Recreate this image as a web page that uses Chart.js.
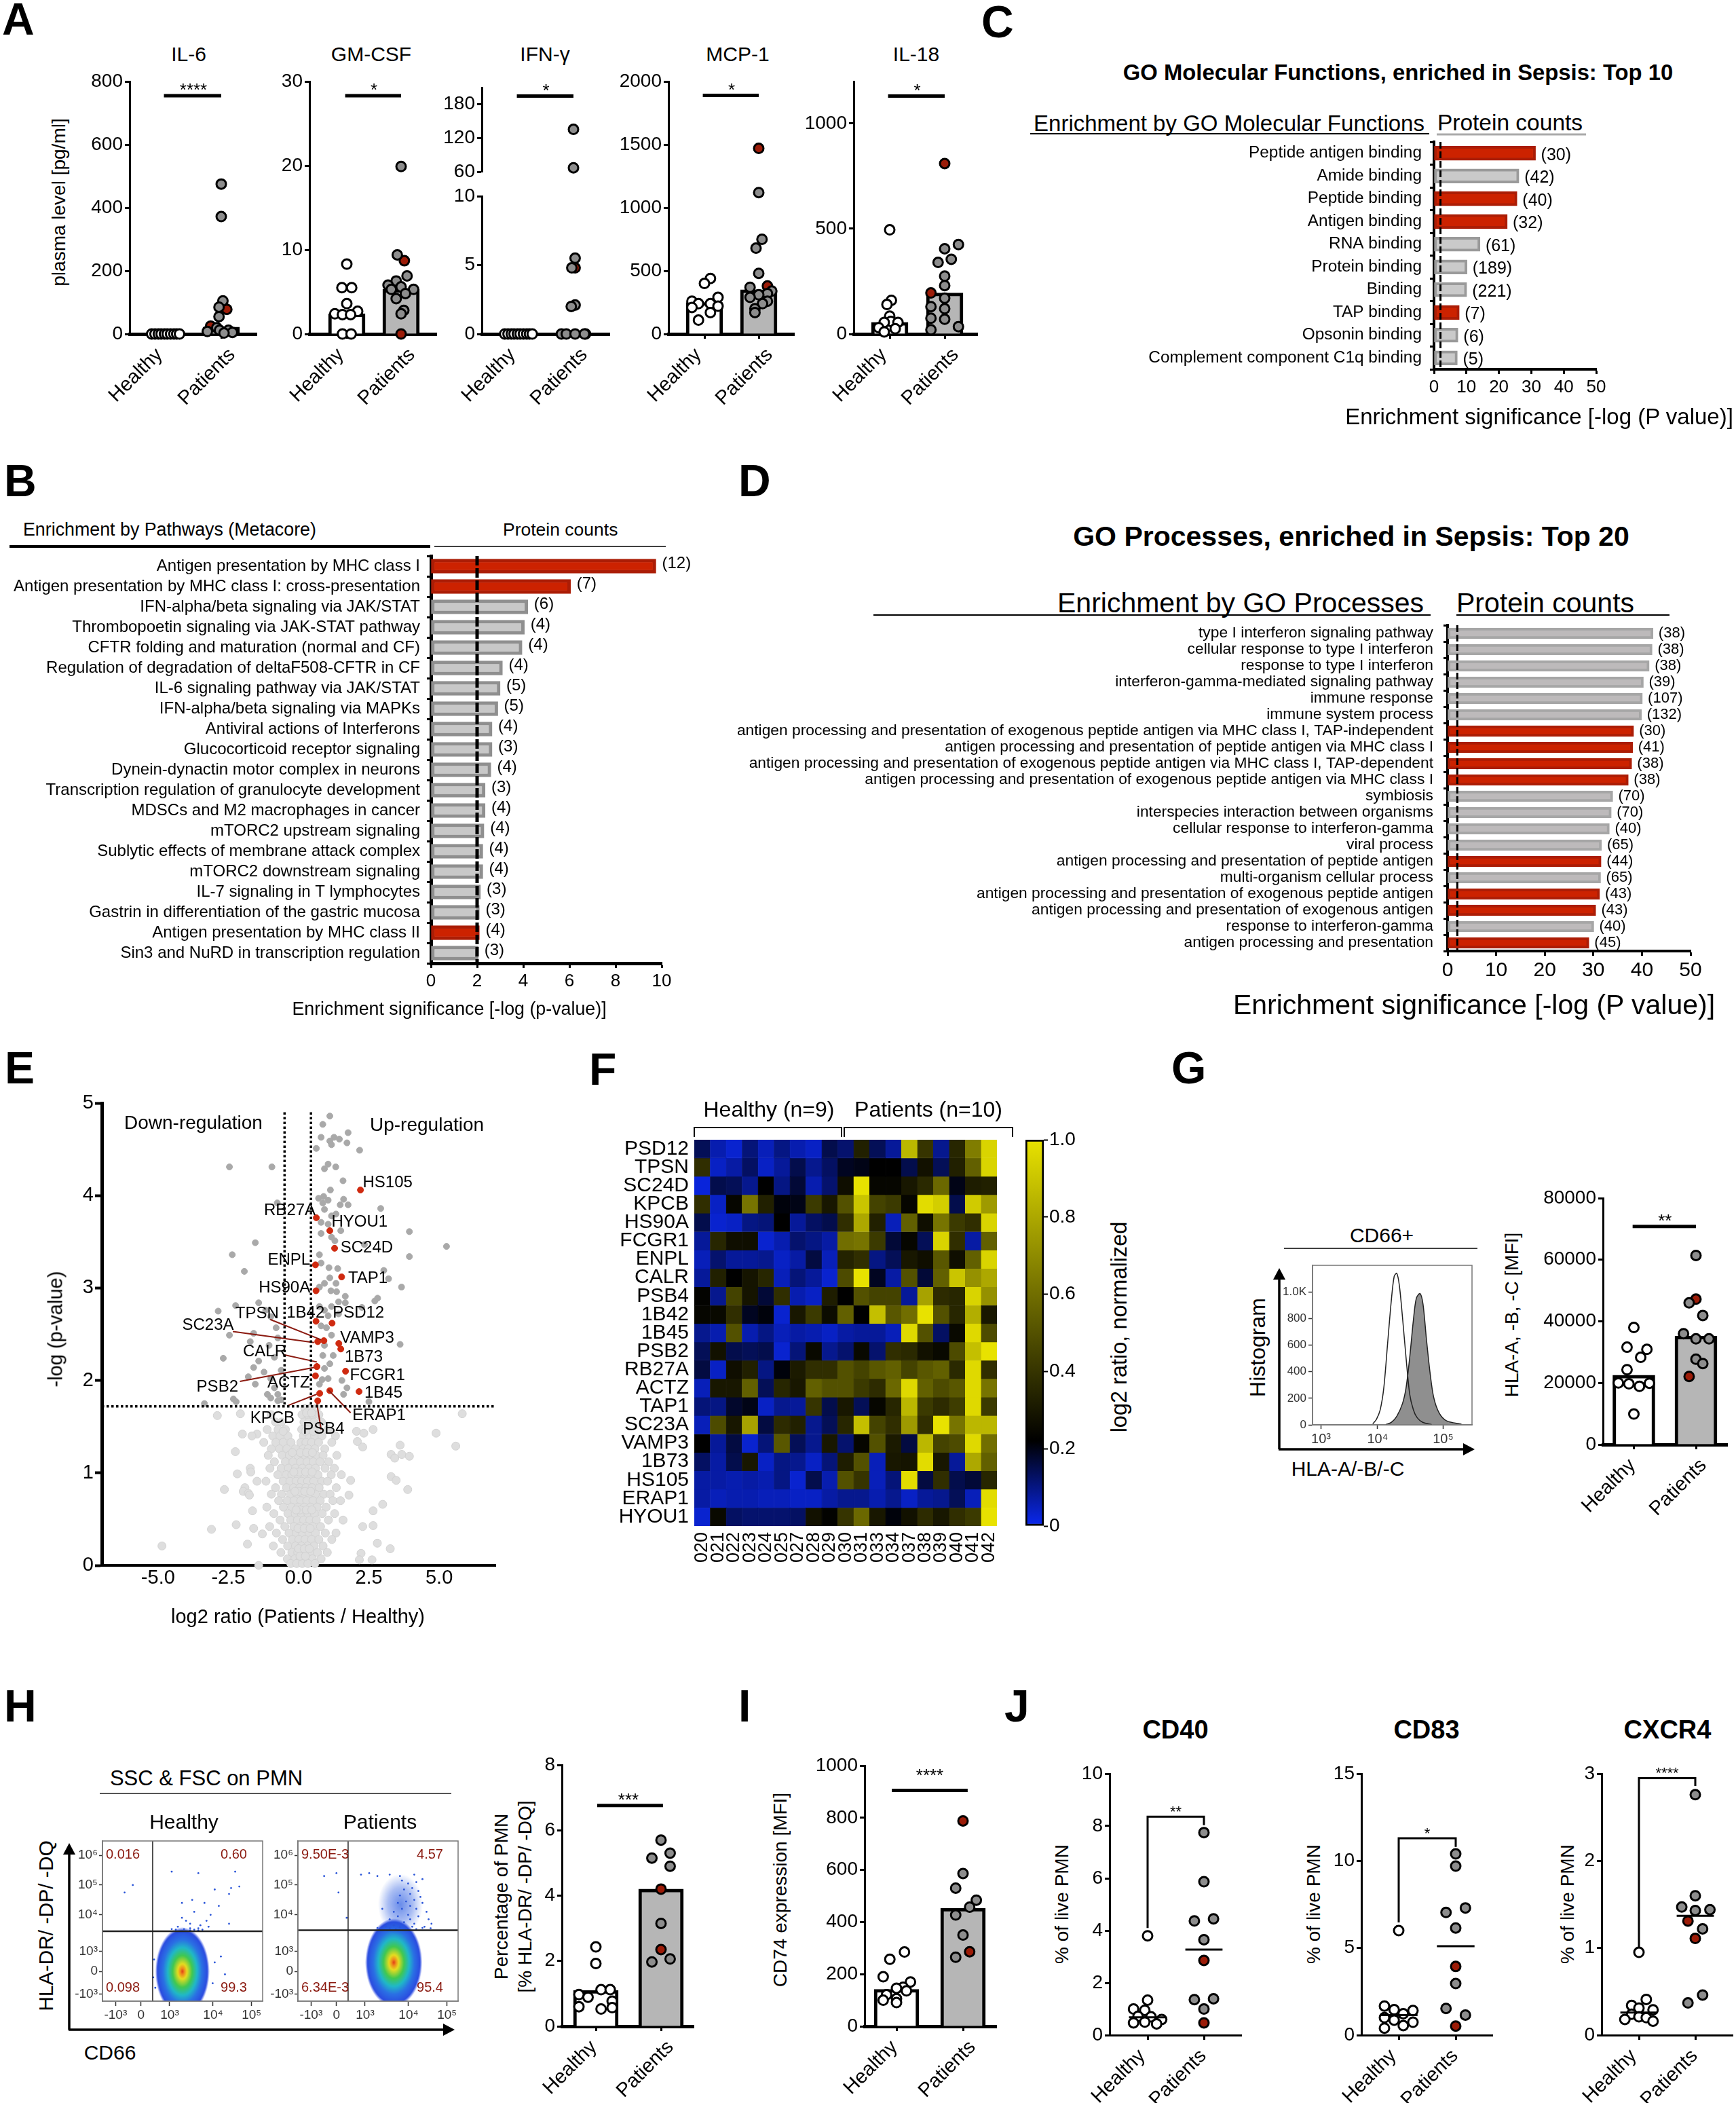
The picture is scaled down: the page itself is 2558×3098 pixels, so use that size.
<!DOCTYPE html>
<html>
<head>
<meta charset="utf-8">
<title>Sepsis neutrophil panels</title>
<script src="https://cdn.jsdelivr.net/npm/chart.js@4"></script>
<style>
  html, body { margin: 0; padding: 0; background: #fff; }
  #page { position: relative; width: 2558px; height: 3098px; overflow: hidden; font-family: "Liberation Sans", Arial, sans-serif; color: #000; }
  #page canvas { position: absolute; }
  #page svg { position: absolute; left: 0; top: 0; }
  .t { position: absolute; white-space: nowrap; line-height: 1; }
</style>
</head>
<body>
<div id="page"></div>
<script>
// ---- data ----
const groupNames = ["Healthy", "Patients"];

// A: cytokines, points are [offset from group centre, value]
const il6Healthy = [[-.25,0],[-.19,0],[-.13,0],[-.08,0],[-.02,0],[.03,0],[.09,0],[.15,0],[.2,0],[.25,0]];
const il6Patients = [[0,475],[0,372],[.03,105],[-.04,85],[-.04,55],[-.08,20],[-.03,12],[.13,12],[-.25,8],[.2,5],[.05,3]];
const il6Red = [[.1,78],[-.19,25]];
const gmHealthy = [[0,8.3],[-.09,5.5],[.09,5.5],[0,3.6],[.2,2.7],[-.22,2.4],[-.08,2.3],[.07,2.3],[-.08,0],[.08,0]];
const gmPatients = [[0,19.9],[-.07,9.4],[.11,6.9],[-.09,6.3],[-.24,5.8],[0,5.6],[.23,5.3],[-.18,5.3],[.08,4.8],[-.09,4.2],[.05,2.8],[0,2.4]];
const gmRed = [[.06,8.7],[0,0]];
const ifnHealthy = [[-.25,0],[-.19,0],[-.13,0],[-.08,0],[-.02,0],[.03,0],[.09,0],[.15,0],[.2,0],[.25,0]];
const ifnPatients = [[.03,5.5],[-.03,4.8],[.03,2.1],[-.04,2],[-.22,0],[-.13,0],[.03,0],[.2,0]];
const ifnRed = [[.03,4.8],[.22,0]];
const ifnPatientsHigh = [[0,135],[0,67]];
const mcpHealthy = [[.11,440],[0,400],[.25,290],[-.23,260],[-.11,240],[.11,240],[.25,220],[-.23,210],[.11,170],[-.11,110]];
const mcpPatients = [[0,1120],[.06,750],[-.05,680],[0,480],[-.16,370],[.24,340],[.16,320],[0,310],[-.16,290],[.16,260],[.07,240],[-.07,200],[-.07,170]];
const mcpRed = [[0,1470],[.16,380]];
const il18Healthy = [[0,495],[.03,160],[-.05,140],[0,85],[.02,60],[-.1,55],[.15,55],[-.2,30],[.1,25],[-.1,10]];
const il18Patients = [[.25,425],[0,405],[.12,355],[-.12,340],[0,275],[0,230],[0,170],[-.25,130],[0,120],[-.25,75],[0,70],[.25,35],[-.25,20]];
const il18Red = [[0,810],[-.25,195]];

// B: pathways
const pathwayNames = ["Antigen presentation by MHC class I","Antigen presentation by MHC class I: cross-presentation","IFN-alpha/beta signaling via JAK/STAT","Thrombopoetin signaling via JAK-STAT pathway","CFTR folding and maturation (normal and CF)","Regulation of degradation of deltaF508-CFTR in CF","IL-6 signaling pathway via JAK/STAT","IFN-alpha/beta signaling via MAPKs","Antiviral actions of Interferons","Glucocorticoid receptor signaling","Dynein-dynactin motor complex in neurons","Transcription regulation of granulocyte development","MDSCs and M2 macrophages in cancer","mTORC2 upstream signaling","Sublytic effects of membrane attack complex","mTORC2 downstream signaling","IL-7 signaling in T lymphocytes","Gastrin in differentiation of the gastric mucosa","Antigen presentation by MHC class II","Sin3 and NuRD in transcription regulation"];
const pathwayValues = [9.75,6.05,4.2,4.05,3.95,3.1,3,2.9,2.65,2.65,2.6,2.35,2.35,2.3,2.25,2.25,2.15,2.1,2.1,2.05];
const pathwayCounts = [12,7,6,4,4,4,5,5,4,3,4,3,4,4,4,4,3,3,4,3];
const pathwayRed = [0,1,18];

// C: GO molecular functions
const functionNames = ["Peptide antigen binding","Amide binding","Peptide binding","Antigen binding","RNA binding","Protein binding","Binding","TAP binding","Opsonin binding","Complement component C1q binding"];
const functionValues = [31.3,26.2,25.6,22.6,14.2,10.2,10.1,7.8,7.4,7.2];
const functionCounts = [30,42,40,32,61,189,221,7,6,5];
const functionRed = [0,2,3,7];

// D: GO processes
const processNames = ["type I interferon signaling pathway","cellular response to type I interferon","response to type I interferon","interferon-gamma-mediated signaling pathway","immune response","immune system process","antigen processing and presentation of exogenous peptide antigen via MHC class I, TAP-independent","antigen processing and presentation of peptide antigen via MHC class I","antigen processing and presentation of exogenous peptide antigen via MHC class I, TAP-dependent","antigen processing and presentation of exogenous peptide antigen via MHC class I","symbiosis","interspecies interaction between organisms","cellular response to interferon-gamma","viral process","antigen processing and presentation of peptide antigen","multi-organism cellular process","antigen processing and presentation of exogenous peptide antigen","antigen processing and presentation of exogenous antigen","response to interferon-gamma","antigen processing and presentation"];
const processValues = [42.3,42.1,41.5,40.3,40.1,39.9,38.3,38.1,37.9,37.2,34,33.7,33.3,31.7,31.6,31.5,31.3,30.5,30.1,29.1];
const processCounts = [38,38,38,39,107,132,30,41,38,38,70,70,40,65,44,65,43,43,40,45];
const processRed = [6,7,8,9,14,16,17,19];

// E: volcano
const geneNames = ["HS105","RB27A","HYOU1","SC24D","ENPL","TAP1","HS90A","1B42","PSD12","TPSN","SC23A","VAMP3","1B73","CALR","FCGR1","ACTZ","PSB2","1B45","ERAP1","KPCB","PSB4"];
const geneX = [2.2,.63,1.11,1.28,.6,1.53,.62,.62,1.19,.9,.68,1.43,1.5,.65,1.67,.6,.65,2.15,1.11,.75,.68];
const geneY = [4.06,3.76,3.62,3.43,3.25,3.12,2.97,2.64,2.62,2.43,2.42,2.4,2.34,2.15,2.1,2.05,2.15,1.88,1.89,1.86,1.78];
const geneLabelX = [2.28,-1.23,1.17,1.49,-1.1,1.76,-1.42,-.43,1.21,-2.25,-4.14,1.48,1.64,-1.98,1.82,-1.11,-3.63,2.34,1.91,-1.72,.15];
const geneLabelY = [4.14,3.84,3.71,3.43,3.3,3.1,3,2.73,2.73,2.72,2.6,2.46,2.25,2.31,2.05,1.97,1.93,1.86,1.62,1.59,1.47];
const geneLeaders = [[[-1.01,2.66],[.8,2.44]],[[-2.34,2.53],[.55,2.41]],[[-.55,2.28],[.65,2.2]],[[-2.09,1.99],[.55,2.14]],[[-.37,1.73],[.64,1.85]],[[.65,1.75],[.8,1.47]],[[1.05,1.9],[1.85,1.65]]];
const volcanoCutX = [-.5,.44];
const volcanoCutY = 1.72;
const volcanoSig = [[1.11,4.86],[.86,4.77],[1.76,4.68],[.8,4.63],[1.26,4.63],[1.45,4.61],[1.72,4.57],[1.11,4.59],[1.17,4.55],[.63,4.51],[2.17,4.49],[-2.46,4.31],[-.95,4.31],[1.05,4.34],[.92,4.29],[1.32,4.31],[1.58,4.16],[1.13,4.06],[.71,3.97],[.89,3.99],[1.6,3.96],[.86,3.92],[1.05,3.95],[1.48,3.9],[1.76,3.9],[-.76,3.92],[2.92,3.86],[.92,3.85],[1.33,3.8],[1.17,3.78],[.8,3.71],[1.05,3.69],[3.94,3.61],[.8,3.59],[1.5,3.62],[1.17,3.55],[1.29,3.51],[-1.54,3.49],[2.34,3.47],[5.26,3.45],[.74,3.36],[-2.36,3.36],[3.94,3.34],[.8,3.27],[1.08,3.22],[1.39,3.21],[-1.93,3.18],[3.03,3.19],[3.2,3.1],[1.11,3.11],[.92,3.05],[1.33,3.05],[.74,3.01],[3.66,3.01],[1.15,2.97],[1.35,2.96],[1.66,2.91],[2.81,2.89],[2.71,2.86],[-1.42,2.84],[-2.24,2.81],[1.42,2.85],[1.66,2.84],[2.25,2.79],[-2.86,2.75],[-1.17,2.76],[.74,2.8],[.92,2.76],[1.17,2.8],[-.99,2.69],[1.05,2.7],[1.42,2.72],[.8,2.59],[.99,2.57],[-.8,2.57],[-1.6,2.51],[-2.46,2.49],[-1.72,2.42],[1.17,2.49],[-1.05,2.38],[-.74,2.46],[3.61,2.39],[.92,2.38],[1.23,2.27],[.86,2.27],[-2.68,2.24],[-1.42,2.21],[-.86,2.25],[1.11,2.18],[-1.6,2.14],[-1.23,2.09],[-.62,2.11],[.92,2.13],[-1.79,2.04],[-.99,2.02],[.84,2.01],[1.05,2.02],[1.54,2],[-1.54,1.96],[.74,1.96],[-.86,1.92],[-.74,1.85],[-1.11,1.85],[-.99,1.81],[-2.32,1.8],[-2.22,1.77],[-.62,1.79],[-3.35,1.75],[-.74,1.78],[2.5,1.77],[1.6,1.85],[1.72,1.92]];
const volcanoOuter = [[-2.89,1.62],[-2.07,1.64],[5.82,1.64],[4.89,1.43],[5.59,1.29],[3.61,1.3],[3.67,1.2],[3.94,1.18],[3.29,1.2],[3.42,1.16],[-2.25,1.23],[-2,1.42],[-1.48,1.42],[-1.66,1.4],[2.06,1.45],[2.32,1.43],[2.65,1.47],[2.09,1.34],[2.28,1.28],[-1.72,1.05],[-1.7,1.01],[-2.18,.99],[1.85,.92],[3.29,.96],[3.47,.92],[-2.64,.82],[3.88,.82],[-1.91,.84],[-1.97,.8],[-1.79,.78],[-1.75,.76],[-1.48,.91],[1.79,.76],[2.99,.66],[2.65,.59],[-1.64,.59],[-2.22,.44],[-3.1,.39],[-4.86,.21],[2.28,.42],[2.65,.43],[2.8,.24],[3.26,.18],[-1.82,.23],[-1.6,.4],[-1.29,.34],[2.22,.13],[2.61,.06],[2.16,.06],[-1.42,0]];
// dense body of the volcano, one line per -log p level: [level, x values]
const volcanoBody = [
  [1.7,[.22,.41,.63]],
  [1.63,[.12,.33,.5,.72,-.98]],
  [1.55,[-.82,-.61,.19,.36,.55,.81]],
  [1.47,[-1.12,-.73,-.47,.11,.29,.47,.66,1.04]],
  [1.4,[-.92,-.66,-.38,.17,.38,.57,.83,1.31]],
  [1.33,[-1.24,-.81,-.55,-.27,.08,.26,.46,.71,1.18]],
  [1.26,[-.97,-.68,-.42,-.12,.16,.34,.58,.93]],
  [1.19,[-1.08,-.58,-.33,-.03,.22,.44,.63,.87,1.36]],
  [1.12,[-.86,-.47,-.2,.07,.3,.52,.76,1.07]],
  [1.05,[-1.02,-.62,-.36,-.11,.13,.37,.6,.94,1.27]],
  [.98,[-.74,-.44,-.24,-.01,.21,.45,.69,1.16,1.52]],
  [.91,[-1.16,-.55,-.31,-.09,.11,.32,.54,.83,1.03]],
  [.84,[-.82,-.43,-.18,.04,.26,.48,.73,1.34]],
  [.77,[-.97,-.61,-.29,-.06,.16,.39,.6,.9,1.12]],
  [.7,[-.71,-.41,-.16,.08,.29,.51,.77,1.22,1.49]],
  [.63,[-1.13,-.54,-.25,-.02,.2,.42,.66,.98]],
  [.56,[-.88,-.38,-.12,.1,.33,.56,.84,1.28]],
  [.49,[-.66,-.28,-.04,.18,.4,.63,1.06,1.58]],
  [.42,[-1.03,-.49,-.17,.06,.27,.5,.78]],
  [.35,[-.79,-.34,-.08,.14,.37,.6,.95,1.33]],
  [.28,[-.57,-.22,.01,.23,.46,.72,1.18]],
  [.21,[-.9,-.39,-.11,.1,.32,.55,.87]],
  [.14,[-.63,-.24,-.03,.18,.41,.67,1.02]],
  [.07,[-.4,-.13,.06,.26,.49,.8]],
  [.02,[-.28,-.07,.13,.33,.58]],
  [1.65,[.28,.46]],[1.45,[.24,.52,-.55]],[1.22,[.06,.28,.49,-.22]],[1.01,[.03,.25,.48,-.17]],[.8,[.02,.22,.43,-.13]],[.6,[.05,.27,.47,-.09]],[.4,[-.02,.2,.41]],[.18,[0,.2,.38]],[.1,[.05,.24]]
];

// F: heatmap
const sampleIds = ["020","021","022","023","024","025","027","028","029","030","031","033","034","037","038","039","040","041","042"];
const heatGenes = ["PSD12","TPSN","SC24D","KPCB","HS90A","FCGR1","ENPL","CALR","PSB4","1B42","1B45","PSB2","RB27A","ACTZ","TAP1","SC23A","VAMP3","1B73","HS105","ERAP1","HYOU1"];
const hmPSD12 = [.14,.06,.03,.11,.05,.1,.06,.04,.15,.12,.33,.14,.08,.85,.4,.09,.35,.65,.95];
const hmTPSN = [.38,.04,.07,.13,.04,.08,.15,.09,.13,.19,.2,.22,.22,.15,.28,.14,.33,.55,.95];
const hmSC24D = [.02,.15,.14,.09,.22,.1,.17,.06,.12,.27,1,.24,.24,.3,.36,.58,.2,.32,.33];
const hmKPCB = [.38,.04,.24,.62,.33,.21,.2,.42,.3,.5,.9,.45,.42,.24,.98,.93,.15,.92,.75];
const hmHS90A = [.15,.03,.04,.1,.11,.22,.08,.13,.15,.38,.8,.33,.05,.55,.27,.62,.42,.38,.95];
const hmFCGR1 = [.08,.35,.27,.27,.03,.06,.12,.1,.07,.6,.62,.42,.17,.24,.14,.95,.38,.07,.55];
const hmENPL = [.05,.12,.08,.08,.09,.04,.07,.16,.05,.34,.38,.1,.14,.3,.27,.52,.27,.55,.95];
const hmCALR = [.08,.33,.22,.29,.35,.05,.11,.08,.03,.48,1,.19,.07,.5,.17,.55,.9,.72,.8];
const hmPSB4 = [.23,.09,.45,.29,.17,.38,.06,.04,.32,.22,.5,.45,.45,.08,.78,.37,.35,.95,.72];
const hm1B42 = [.24,.25,.38,.19,.21,.03,.3,.42,.26,.55,.22,.88,.52,.6,1,.5,.35,.82,.3];
const hm1B45 = [.09,.06,.5,.06,.1,.05,.07,.06,.04,.07,.08,.08,.05,.97,.5,.13,.25,.97,.48];
const hmPSB2 = [.14,.28,.15,.14,.15,.03,.11,.25,.09,.12,.25,.12,.38,.36,.28,.25,.48,.88,1];
const hmRB27A = [.16,.04,.27,.33,.1,.21,.31,.38,.38,.5,.45,.52,.55,.45,.52,.55,.36,.97,.38];
const hmACTZ = [.05,.3,.3,.55,.14,.35,.3,.55,.5,.5,.42,.37,.58,.97,.55,.48,.52,.97,.62];
const hmTAP1 = [.11,.1,.18,.2,.04,.09,.08,.4,.15,.3,.14,.24,.35,.85,.42,.37,.43,.97,.42];
const hmSC23A = [.05,.48,.3,.78,.16,.37,.33,.09,.14,.35,.88,.45,.38,.75,.38,1,.62,.85,.85];
const hmVAMP3 = [.22,.08,.16,.03,.11,.52,.14,.09,.3,.12,.24,.5,.31,.16,.85,.45,.48,.97,.6];
const hm1B73 = [.13,.07,.15,.3,.04,.1,.09,.04,.11,.32,.5,.05,.3,.29,.98,.3,.08,.8,.55];
const hmHS105 = [.07,.07,.06,.07,.06,.1,.03,.15,.06,.5,.4,.05,.11,.98,.16,.38,.15,.17,.35];
const hmERAP1 = [.07,.05,.06,.06,.05,.05,.04,.04,.07,.09,.09,.06,.09,.04,.08,.09,.14,.05,.98];
const hmHYOU1 = [.03,.25,.13,.12,.12,.12,.13,.28,.23,.4,.58,.3,.21,.28,.37,.3,.38,.42,1];
const heatRows = [hmPSD12,hmTPSN,hmSC24D,hmKPCB,hmHS90A,hmFCGR1,hmENPL,hmCALR,hmPSB4,hm1B42,hm1B45,hmPSB2,hmRB27A,hmACTZ,hmTAP1,hmSC23A,hmVAMP3,hm1B73,hmHS105,hmERAP1,hmHYOU1];
const colorbarTicks = [0,.2,.4,.6,.8,1];

// G: histogram and MFI
const histChannel = [3.915,3.98,4.046,4.11,4.176,4.242,4.294,4.34,4.386,4.44,4.503,4.569,4.634,4.7,4.797,4.96];
const histIsotype = [7,42,112,276,603,930,1117,1140,1047,813,509,229,112,54,19,2];
const histStainChannel = [4.144,4.242,4.34,4.44,4.503,4.569,4.634,4.686,4.752,4.804,4.863,4.928,4.993,5.09,5.222,5.484];
const histStain = [2,19,65,159,276,509,790,953,988,907,650,393,206,89,30,5];
const histTickPos = [3,4,5.16];
const histTickLabels = ["10³","10⁴","10⁵"];
const mhc1Healthy = [[0,38000],[-.11,31600],[.21,30900],[.11,28300],[-.11,24300],[-.25,20000],[-.08,19700],[.09,18900],[.25,19900],[0,9900]];
const mhc1Patients = [[0,61400],[-.11,46000],[.11,41900],[-.2,36000],[0,34300],[.21,34300],[0,27700],[.11,26300]];
const mhc1Red = [[0,47200],[-.11,22100]];

// H: flow plots, in display decades
const flowXTicks = [1.68,2.3,3,4.06,5];
const flowXLabels = ["-10³","0","10³","10⁴","10⁵"];
const flowYTicks = [1.33,2.1,2.77,4,5,6];
const flowYLabels = ["-10³","0","10³","10⁴","10⁵","10⁶"];
const flowHealthySparse = [[3.2,3.6],[3.5,3.7],[3.7,3.55],[3.3,3.9],[3.9,3.8],[3.6,4.1],[3.85,4.4],[4.2,4.3],[4.1,4.85],[4.5,4.9],[4.7,4.95],[4.45,4.7],[3.05,5.45],[3.7,5.4],[4.6,5.45],[3.5,3.55],[3.15,3.5],[3.95,3.6],[3.4,3.8],[3.75,3.65],[4,4],[4.45,3.7],[2.1,5],[1.9,4.75],[3.55,4.5],[3.3,4.4],[3.8,3.5],[3.05,3.52],[3.6,3.5],[3.35,3.52],[3.5,3.48],[3.7,3.48],[2.62,2.5],[4.1,2.4],[4.25,2.6],[4.35,2],[4.05,1.7],[2.6,1.9],[2.65,1.55]];
const flowPatientsSparse = [[3.1,5.4],[3.6,5.35],[3.85,5.3],[4.2,5.35],[4.4,5.2],[3.9,5.15],[4.05,5.05],[4.25,5.1],[4.15,4.9],[3.95,4.85],[4.3,4.8],[4.1,4.7],[3.85,4.65],[4.35,4.6],[4.2,4.5],[4,4.45],[3.8,4.4],[4.4,4.4],[4.1,4.3],[3.9,4.2],[4.25,4.2],[3.7,4.1],[4.5,4.1],[4.05,4],[3.8,3.95],[4.3,3.95],[3.6,3.85],[4.55,3.85],[3.95,3.75],[4.2,3.7],[3.7,3.65],[4.45,3.6],[3.5,3.6],[3.85,3.58],[4.15,3.6],[4.6,3.55],[3.6,3.55],[4,3.54],[4.4,3.56],[3.4,3.55],[3.75,3.52],[4.25,3.52],[4.62,3.7],[3.3,3.56],[3.55,3.7],[4.1,3.85],[3.42,4.2],[3.3,5.3],[2.55,3.9],[2.3,5.4],[2,5.3],[2.9,5.35],[2.35,4.75]];

const prPctHealthy = [[0,2.43],[0,1.92],[.08,1.12],[.22,1.12],[-.26,.97],[-.12,.89],[.25,.77],[-.26,.6],[.25,.57],[.08,.53]];
const prPctPatients = [[0,5.7],[.14,5.3],[-.14,5.15],[.14,4.9],[0,3.15],[.14,2.06],[-.14,1.97]];
const prPctRed = [[0,4.2],[0,2.35]];

// I: CD74
const cd74Healthy = [[.12,285],[-.1,257],[-.2,190],[.21,170],[.1,150],[0,146],[.15,136],[-.15,121],[0,106],[-.2,100],[0,91]];
const cd74Patients = [[0,586],[-.11,530],[.2,484],[.1,457],[-.11,427],[0,350],[-.11,265]];
const cd74Red = [[0,788],[.1,286]];

// J: surface markers
const cd40Healthy = [[0,3.8],[0,1.34],[-.25,1],[-.05,.95],[-.17,.72],[.06,.7],[.25,.6],[-.25,.47],[-.05,.5],[.16,.43]];
const cd40Patients = [[0,7.75],[0,5.87],[.17,4.45],[-.17,4.37],[0,3.65],[.17,1.39],[-.17,1.36],[0,1]];
const cd40Red = [[0,2.86],[0,.47]];
const cd83Healthy = [[0,6],[-.25,1.67],[-.08,1.46],[.25,1.41],[.08,1.23],[-.25,1],[-.08,.86],[.25,.74],[.08,.55],[-.25,.4]];
const cd83Patients = [[0,10.4],[0,9.7],[.17,7.3],[-.17,7.04],[0,6.15],[0,2.96],[-.17,1.53],[.17,1.15]];
const cd83Red = [[0,3.94],[0,.52]];
const cxcr4Healthy = [[0,.95],[.13,.41],[-.13,.34],[0,.31],[.25,.29],[-.13,.24],[0,.21],[.13,.2],[-.25,.18],[.25,.16]];
const cxcr4Patients = [[0,2.76],[0,1.6],[-.24,1.47],[.26,1.44],[0,1.43],[.13,1.22],[.13,.46],[-.13,.37]];
const cxcr4Red = [[-.13,1.31],[0,1.11]];

// ---- helpers ----
const page = document.getElementById("page");
const FONT = '"Liberation Sans", Arial, sans-serif';
const GRAY_DOT = "#8d8d8d", RED_DOT = "#9c1c08", GRAY_BAR = "#b6b6b6";
Chart.defaults.font.family = FONT;
Chart.defaults.color = "#000";
Chart.defaults.animation = false;

const svg = document.createElementNS("http://www.w3.org/2000/svg", "svg");
svg.setAttribute("width", 2558);
svg.setAttribute("height", 3098);
page.appendChild(svg);

function line(x1, y1, x2, y2, color, w) {
  const el = document.createElementNS(svg.namespaceURI, "line");
  Object.entries({ x1, y1, x2, y2, stroke: color || "#000", "stroke-width": w || 2 }).forEach(([k, v]) => el.setAttribute(k, v));
  svg.appendChild(el);
}
function tri(points) {
  const el = document.createElementNS(svg.namespaceURI, "polygon");
  el.setAttribute("points", points);
  svg.appendChild(el);
}
function txt(s, x, y, size, o = {}) {
  const d = document.createElement("div");
  d.className = "t";
  d.textContent = s;
  d.style.left = x + "px";
  d.style.top = y + "px";
  d.style.fontSize = size + "px";
  if (o.bold) d.style.fontWeight = "bold";
  if (o.color) d.style.color = o.color;
  if (o.rot) d.style.transform = "translate(-50%,-50%) rotate(-90deg)";
  else d.style.transform = { c: "translate(-50%,-50%)", l: "translate(0,-50%)", r: "translate(-100%,-50%)" }[o.a || "c"];
  page.appendChild(d);
}

// notes drawn from scale coordinates: {x, y, text, font, align, dx, dy, color}
function notesPlugin(items) {
  return {
    id: "notes",
    afterDatasetsDraw(chart) {
      const c = chart.ctx;
      c.save();
      items.forEach((n) => {
        const sx = chart.scales[n.xAxis || "x"], sy = chart.scales[n.yAxis || "y"];
        c.font = n.font;
        c.fillStyle = n.color || "#000";
        c.textAlign = n.align || "center";
        c.textBaseline = "middle";
        const px = typeof n.x === "number" ? sx.getPixelForValue(n.x) : 0;
        const py = sy.getPixelForValue(n.y);
        c.fillText(n.text, px + (n.dx || 0), py + (n.dy || 0));
      });
      c.restore();
    },
  };
}
// vertical dashed threshold through a horizontal bar panel
function thresholdPlugin(value, w, dash) {
  return {
    id: "threshold",
    afterDatasetsDraw(chart) {
      const c = chart.ctx, px = chart.scales.x.getPixelForValue(value), a = chart.chartArea;
      c.save();
      c.strokeStyle = "#000";
      c.lineWidth = w;
      c.setLineDash(dash);
      c.beginPath();
      c.moveTo(px, a.top);
      c.lineTo(px, a.bottom);
      c.stroke();
      c.restore();
    },
  };
}
const framePlugin = {
  id: "frame",
  afterDraw(chart) {
    const a = chart.chartArea, c = chart.ctx;
    c.save();
    c.strokeStyle = "#777";
    c.lineWidth = 1.5;
    c.strokeRect(a.left, a.top, a.right - a.left, a.bottom - a.top);
    c.restore();
  },
};

// places a chart so its plot area lands exactly on [left, top, right, bottom]
function addChart(plot, m, config) {
  const [l, t, r, b] = plot;
  const canvas = document.createElement("canvas");
  const w = r - l + m.l + m.r, h = b - t + m.t + m.b;
  canvas.width = w;
  canvas.height = h;
  canvas.style.left = l - m.l + "px";
  canvas.style.top = t - m.t + "px";
  canvas.style.width = w + "px";
  canvas.style.height = h + "px";
  page.appendChild(canvas);
  const o = config.options = config.options || {};
  const yRight = o.scales.y.position === "right";
  o.responsive = false;
  o.maintainAspectRatio = false;
  o.animation = false;
  o.layout = { padding: yRight ? { top: m.t, left: m.l, right: 0, bottom: 0 } : { top: m.t, right: m.r, left: 0, bottom: 0 } };
  o.plugins = Object.assign({ legend: { display: false }, tooltip: { enabled: false } }, o.plugins);
  // a separate label axis (xl) carries the text, x keeps only line and tick marks
  if (o.scales.xl) {
    o.scales.x.afterFit = (s) => { s.height = 0; };
    o.scales.xl.afterFit = (s) => { s.height = m.b; };
  } else {
    o.scales.x.afterFit = (s) => { s.height = m.b; };
  }
  o.scales.y.afterFit = (s) => { s.width = yRight ? m.r : m.l; };
  return new Chart(canvas, config);
}

function toXY(points, centre) {
  return points.map(([dx, y]) => ({ x: centre + dx, y }));
}
function dots(points, centre, fill, radius) {
  return {
    type: "scatter", data: toXY(points, centre), order: 1, clip: false,
    backgroundColor: fill, borderColor: "#000", borderWidth: 3, pointRadius: radius || 7,
  };
}
function path(points, width, color, dash) {
  return {
    type: "line", data: points.map(([x, y]) => ({ x, y })), order: 0, borderColor: color || "#000", borderWidth: width,
    pointRadius: 0, fill: false, tension: 0, borderDash: dash || [], clip: false,
  };
}

// one Healthy/Patients dot panel
function dotPanel(p) {
  const spacing = p.c1 - p.c0;
  const [l, , r] = p.plot;
  const lw = p.lw || 5;
  const shift = p.labelShift || [-9, 16];
  const xMin = (l - p.c0) / spacing, xMax = (r - p.c0) / spacing;
  const datasets = [];
  if (p.bars) {
    datasets.push({
      type: "bar", order: 3, data: [{ x: 0, y: p.bars[0] }, { x: 1, y: p.bars[1] }],
      backgroundColor: ["#fff", GRAY_BAR], borderColor: "#000", borderWidth: 5, borderSkipped: "bottom", barThickness: p.barW || 62, grouped: false,
    });
  }
  if (p.healthy) datasets.push(dots(p.healthy, 0, "#fff"));
  if (p.patients) datasets.push(dots(p.patients, 1, GRAY_DOT));
  if (p.red) datasets.push(dots(p.red, 1, RED_DOT));
  (p.lines || []).forEach((ln) => datasets.push(path(ln, p.lineW || 5)));
  return addChart(p.plot, { l: p.marginL || 120, t: 30, r: 30, b: 150 }, {
    type: "bar",
    data: { datasets },
    options: {
      scales: {
        x: {
          type: "linear", offset: false, min: xMin, max: xMax, display: !p.noX,
          afterBuildTicks(s) { s.ticks = [{ value: 0 }, { value: 1 }]; },
          ticks: { display: false },
          grid: { offset: false, drawOnChartArea: false, tickLength: 7, tickWidth: 3, tickColor: "#000" },
          border: { color: "#000", width: lw },
        },
        xl: {
          type: "linear", position: "bottom", offset: false, min: xMin, max: xMax, display: !p.noX,
          afterBuildTicks(s) { s.ticks = [{ value: shift[0] / spacing }, { value: 1 + shift[1] / spacing }]; },
          ticks: { autoSkip: false, minRotation: 45, maxRotation: 45, font: { size: 29 }, color: "#000", padding: 6, callback: (v, i) => groupNames[i] },
          grid: { display: false, offset: false },
          border: { display: false },
        },
        y: {
          type: "linear", min: p.y[0], max: p.y[1],
          afterBuildTicks(s) {
            s.ticks = [];
            for (let v = p.y[0]; v <= p.y[1]; v += p.y[2]) s.ticks.push({ value: v });
          },
          ticks: { font: { size: p.tickSize || 28 }, color: "#000", padding: 3, callback: (v) => String(v) },
          grid: { drawOnChartArea: false, tickLength: 7, tickWidth: 3, tickColor: "#000" },
          border: { color: "#000", width: 3 },
        },
      },
    },
    plugins: [notesPlugin(p.notes || [])],
  });
}
const stars = (s, y, dy, x, size) => ({ x: x === undefined ? 0.5 : x, y, text: s, font: `${size || 26}px ${FONT}`, dy });

// horizontal enrichment panel
function enrichPanel(p) {
  const red = (i) => p.red.includes(i);
  const notes = p.values.map((v, i) => ({
    x: v, y: i, text: `(${p.counts[i]})`, font: `${p.countSize}px ${FONT}`, align: "left", dx: p.countDx, dy: p.countDy,
  }));
  return addChart(p.plot, { l: p.plot[0], t: 30, r: 90, b: 130 }, {
    type: "bar",
    data: {
      labels: p.names,
      datasets: [{
        data: p.values,
        backgroundColor: p.values.map((_, i) => (red(i) ? "#cc2200" : p.fill)),
        borderColor: p.values.map((_, i) => (red(i) ? "#ab1d06" : p.edge)),
        borderWidth: p.edgeW,
        borderSkipped: false,
        barThickness: p.barH,
      }],
    },
    options: {
      indexAxis: "y",
      scales: {
        x: {
          type: "linear", min: 0, max: p.max,
          ticks: { stepSize: p.step, font: { size: p.tickSize }, color: "#000", padding: 4 },
          grid: { drawOnChartArea: false, tickLength: 7, tickWidth: 3, tickColor: "#000" },
          border: { color: "#000", width: p.axisW },
        },
        y: {
          type: "category", position: "left",
          ticks: { autoSkip: false, font: { size: p.labelSize }, color: "#000", padding: p.labelPad },
          grid: { drawOnChartArea: false, tickLength: 6, tickWidth: 3, tickColor: "#000" },
          border: { color: "#000", width: p.axisW },
        },
      },
    },
    plugins: [notesPlugin(notes), thresholdPlugin(2, p.dashW, p.dash)],
  });
}

// ---- panel letters ----
[["A",3,28],["B",6,708],["C",1446,32],["D",1088,708],["E",7,1573],["F",868,1575],["G",1726,1573],["H",6,2513],["I",1088,2513],["J",1480,2513]]
  .forEach(([s, x, y]) => txt(s, x, y, 66, { bold: true, a: "l" }));

// ---- A ----
[["IL-6",278],["GM-CSF",547],["IFN-γ",803],["MCP-1",1087],["IL-18",1350]].forEach(([s, x]) => txt(s, x, 80, 30));
txt("plasma level [pg/ml]", 87, 298, 28, { rot: true });
dotPanel({ plot: [191, 120, 378, 492], c0: 244, c1: 326, y: [0, 800, 200], bars: [0, 22], barW: 54, healthy: il6Healthy, patients: il6Patients, red: il6Red,
  lines: [[[-.03, 755], [1, 755]]], notes: [stars("****", 755, -7)] });
dotPanel({ plot: [456, 120, 643, 492], c0: 511, c1: 591, y: [0, 30, 10], bars: [2.4, 5.3], barW: 54, healthy: gmHealthy, patients: gmPatients, red: gmRed,
  lines: [[[-.03, 28.3], [1, 28.3]]], notes: [stars("*", 28.3, -7)] });
dotPanel({ plot: [710, 289, 898, 492], c0: 764, c1: 845, y: [0, 10, 5], healthy: ifnHealthy, patients: ifnPatients, red: ifnRed });
dotPanel({ plot: [710, 129, 898, 253], c0: 764, c1: 845, y: [60, 209, 60], noX: true, patients: ifnPatientsHigh,
  lines: [[[-.03, 194], [1, 194]]], notes: [stars("*", 194, -7)] });
dotPanel({ plot: [985, 120, 1170, 492], c0: 1038, c1: 1118, y: [0, 2000, 500], bars: [250, 350], barW: 54, healthy: mcpHealthy, patients: mcpPatients, red: mcpRed,
  lines: [[[-.03, 1890], [1, 1890]]], notes: [stars("*", 1890, -7)] });
dotPanel({ plot: [1258, 120, 1440, 492], c0: 1311, c1: 1392, y: [0, 1200, 500], bars: [55, 195], barW: 54, healthy: il18Healthy, patients: il18Patients, red: il18Red,
  lines: [[[-.03, 1131], [1, 1131]]], notes: [stars("*", 1131, -7)] });

// ---- B ----
txt("Enrichment by Pathways (Metacore)", 34, 780, 26.8, { a: "l" });
txt("Protein counts", 741, 780, 26.5, { a: "l" });
line(14, 805, 634, 805, "#000", 4);
line(640, 805, 981, 805, "#000", 1.5);
enrichPanel({ plot: [635, 819, 975, 1419], names: pathwayNames, values: pathwayValues, counts: pathwayCounts, red: pathwayRed, max: 10, step: 2,
  fill: "#c8c8c8", edge: "#8f8f8f", edgeW: 5, barH: 21, tickSize: 26, labelSize: 24, labelPad: 10, countSize: 24, countDx: 9, countDy: -4, axisW: 5, dashW: 5, dash: [14, 4] });
txt("Enrichment significance [-log (p-value)]", 662, 1486, 26.8);

// ---- C ----
txt("GO Molecular Functions, enriched in Sepsis: Top 10", 2060, 107, 32.8, { bold: true });
txt("Enrichment by GO Molecular Functions", 1811, 181, 33);
txt("Protein counts", 2225, 181, 33.5);
line(1518, 197, 2106, 197, "#000", 2);
line(2117, 198, 2337, 198, "#aaa", 3);
enrichPanel({ plot: [2113, 209, 2352, 544], names: functionNames, values: functionValues, counts: functionCounts, red: functionRed, max: 50, step: 10,
  fill: "#cacaca", edge: "#9a9a9a", edgeW: 4, barH: 21, tickSize: 26, labelSize: 24.4, labelPad: 12, countSize: 25, countDx: 8, countDy: 3, axisW: 4, dashW: 3, dash: [10, 4] });
txt("Enrichment significance [-log (P value)]", 2268, 613, 33);

// ---- D ----
txt("GO Processes, enriched in Sepsis: Top 20", 1991, 790, 41, { bold: true });
txt("Enrichment by GO Processes", 1828, 888, 41);
txt("Protein counts", 2277, 888, 41);
line(1287, 906, 2108, 906, "#000", 2);
line(2146, 906, 2460, 906, "#000", 2);
enrichPanel({ plot: [2133, 921, 2491, 1401], names: processNames, values: processValues, counts: processCounts, red: processRed, max: 50, step: 10,
  fill: "#bdbabb", edge: "#a6a6a6", edgeW: 4, barH: 16, tickSize: 30, labelSize: 22.8, labelPad: 15, countSize: 22, countDx: 8, countDy: 0, axisW: 4, dashW: 3, dash: [10, 4] });
txt("Enrichment significance [-log (P value)]", 2172, 1480, 41);

// ---- E ----
const bodyPoints = [];
volcanoBody.forEach(([y, xs]) => xs.forEach((x) => bodyPoints.push({ x, y })));
const genePoints = geneNames.map((_, i) => ({ x: geneX[i], y: geneY[i] }));
const geneNotes = geneNames.map((s, i) => ({ x: geneLabelX[i], y: geneLabelY[i], text: s, align: "left", font: `24px ${FONT}` }));
const lightDot = (data) => ({ type: "scatter", data, backgroundColor: "#dedede", borderColor: "#d2d2d2", borderWidth: 1, pointRadius: 6, order: 5, clip: false });
addChart([150, 1625, 730, 2306], { l: 150, t: 30, r: 30, b: 100 }, {
  type: "scatter",
  data: {
    datasets: [
      lightDot(bodyPoints),
      lightDot(volcanoOuter.map(([x, y]) => ({ x, y }))),
      { data: volcanoSig.map(([x, y]) => ({ x, y })), backgroundColor: "#a9a9a9", borderColor: "#a9a9a9", pointRadius: 4.5, order: 4, clip: false },
      { data: genePoints, backgroundColor: "#cf2a10", borderColor: "#cf2a10", pointRadius: 4.5, order: 1, clip: false },
      path([[volcanoCutX[0], 4.9], [volcanoCutX[0], volcanoCutY]], 3.5, "#000", [3.5, 3.5]),
      path([[volcanoCutX[1], 4.9], [volcanoCutX[1], volcanoCutY]], 3.5, "#000", [3.5, 3.5]),
      path([[-7, volcanoCutY], [7, volcanoCutY]], 3.5, "#000", [3.5, 3.5]),
      ...geneLeaders.map((ln) => path(ln, 2, "#8b1a10")),
    ],
  },
  options: {
    scales: {
      x: {
        type: "linear", min: -7, max: 7,
        afterBuildTicks(s) { s.ticks = [-5, -2.5, 0, 2.5, 5].map((value) => ({ value })); },
        ticks: { font: { size: 29 }, color: "#000", padding: 2, callback: (v) => v.toFixed(1) },
        grid: { drawOnChartArea: false, tickLength: 0 },
        border: { color: "#000", width: 4 },
      },
      y: {
        type: "linear", min: 0, max: 5,
        ticks: { stepSize: 1, font: { size: 29 }, color: "#000", padding: 2 },
        grid: { drawOnChartArea: false, tickLength: 10, tickWidth: 4, tickColor: "#000" },
        border: { color: "#000", width: 5 },
      },
    },
  },
  plugins: [notesPlugin(geneNotes)],
});
txt("Down-regulation", 183, 1654, 28, { a: "l" });
txt("Up-regulation", 545, 1657, 28, { a: "l" });
txt("-log (p-value)", 82, 1958, 29, { rot: true });
txt("log2 ratio (Patients / Healthy)", 439, 2381, 29);

// ---- F ----
const heatBlue = [10, 40, 240], heatYellow = [232, 226, 0], heatMid = 0.22;
function heatColor(v) {
  const from = v < heatMid ? heatBlue : [0, 0, 0];
  const to = v < heatMid ? [0, 0, 0] : heatYellow;
  const k = v < heatMid ? v / heatMid : (v - heatMid) / (1 - heatMid);
  const c = from.map((f, i) => Math.round(f + (to[i] - f) * k));
  return `rgb(${c[0]},${c[1]},${c[2]})`;
}
addChart([1023, 1679, 1487, 2248], { l: 170, t: 30, r: 4, b: 70 }, {
  type: "bar",
  data: {
    labels: sampleIds,
    datasets: heatRows.map((row, r) => ({
      data: row.map(() => [r, r + 1]),
      backgroundColor: row.map(heatColor),
      borderColor: row.map(heatColor),
      borderWidth: 0.6,
      borderSkipped: false,
      grouped: false,
      barPercentage: 1,
      categoryPercentage: 1,
    })),
  },
  options: {
    scales: {
      x: {
        type: "category",
        ticks: { autoSkip: false, minRotation: 90, maxRotation: 90, font: { size: 27 }, color: "#000", padding: 1 },
        grid: { display: false },
        border: { display: false },
      },
      y: {
        type: "linear", min: 0, max: heatGenes.length, reverse: true,
        afterBuildTicks(s) { s.ticks = heatGenes.map((_, i) => ({ value: i + 0.5 })); },
        ticks: { autoSkip: false, font: { size: 30 }, color: "#000", padding: 0, callback: (v) => heatGenes[Math.floor(v)] },
        grid: { display: false },
        border: { display: false },
      },
    },
  },
});
// colour bar
addChart([1511, 1679, 1538, 2248], { l: 4, t: 30, r: 70, b: 30 }, {
  type: "bar",
  data: {
    labels: [""],
    datasets: [{
      data: [[0, 1]],
      barPercentage: 1,
      categoryPercentage: 1,
      borderColor: "#000",
      borderWidth: 3,
      borderSkipped: false,
      backgroundColor(ctx) {
        const a = ctx.chart.chartArea;
        if (!a) return "#000";
        const g = ctx.chart.ctx.createLinearGradient(0, a.bottom, 0, a.top);
        g.addColorStop(0, heatColor(0));
        g.addColorStop(heatMid, "#000");
        g.addColorStop(1, heatColor(1));
        return g;
      },
    }],
  },
  options: {
    scales: {
      x: { type: "category", display: false },
      y: {
        type: "linear", position: "right", min: 0, max: 1,
        afterBuildTicks(s) { s.ticks = colorbarTicks.map((value) => ({ value })); },
        ticks: { font: { size: 28 }, color: "#000", padding: 2, callback: (v) => (v === 0 ? "0" : v.toFixed(1)) },
        grid: { drawOnChartArea: false, tickLength: 6, tickWidth: 2, tickColor: "#000" },
        border: { display: false },
      },
    },
  },
});
txt("Healthy (n=9)", 1133, 1634, 32);
txt("Patients (n=10)", 1368, 1634, 32);
[[1023, 1240], [1244, 1492]].forEach(([a, b]) => {
  line(a, 1661, b, 1661, "#000", 2);
  line(a, 1660, a, 1675, "#000", 2);
  line(b, 1660, b, 1675, "#000", 2);
});
txt("log2 ratio, normalized", 1649, 1955, 32.5, { rot: true });

// ---- G ----
addChart([1934, 1864, 2169, 2099], { l: 60, t: 20, r: 10, b: 45 }, {
  type: "line",
  data: {
    datasets: [
      { data: histStainChannel.map((x, i) => ({ x, y: histStain[i] })), borderColor: "#222", borderWidth: 1.5, backgroundColor: "#8f8f8f", fill: "origin", pointRadius: 0, tension: 0.3, order: 2 },
      { data: histChannel.map((x, i) => ({ x, y: histIsotype[i] })), borderColor: "#222", borderWidth: 1.5, fill: false, pointRadius: 0, tension: 0.3, order: 1 },
    ],
  },
  options: {
    scales: {
      x: {
        type: "linear", min: 2.85, max: 5.67,
        afterBuildTicks(s) { s.ticks = histTickPos.map((value) => ({ value })); },
        ticks: { font: { size: 20 }, color: "#333", padding: 3, autoSkip: false, maxRotation: 0, callback: (v, i) => histTickLabels[i] },
        grid: { drawOnChartArea: false, tickLength: 6, tickWidth: 1.5, tickColor: "#333" },
        border: { color: "#777", width: 1.5 },
      },
      y: {
        type: "linear", min: 0, max: 1200,
        afterBuildTicks(s) { s.ticks = [0, 200, 400, 600, 800, 1000].map((value) => ({ value })); },
        ticks: { font: { size: 17 }, color: "#333", padding: 3, callback: (v) => (v === 1000 ? "1.0K" : String(v)) },
        grid: { drawOnChartArea: false, tickLength: 6, tickWidth: 1.5, tickColor: "#333" },
        border: { color: "#777", width: 1.5 },
      },
    },
  },
  plugins: [framePlugin],
});
txt("CD66+", 2036, 1820, 30);
line(1892, 1839, 2177, 1839, "#000", 1.5);
txt("Histogram", 1853, 1985, 32, { rot: true });
txt("HLA-A/-B/-C", 1986, 2164, 30);
line(1885, 2135, 1885, 1880, "#000", 3.5);
line(1884, 2135, 2160, 2135, "#000", 3.5);
tri("1885,1868 1876,1885 1894,1885");
tri("2173,2135 2156,2126 2156,2144");
txt("HLA-A, -B, -C [MFI]", 2228, 1937, 28, { rot: true });
dotPanel({ plot: [2362, 1765, 2545, 2128], c0: 2407.5, c1: 2499, y: [0, 80000, 20000], bars: [22500, 35200], healthy: mhc1Healthy, patients: mhc1Patients, red: mhc1Red,
  marginL: 130, labelShift: [-2, 11], lines: [[[-.02, 70800], [1, 70800]]], notes: [stars("**", 70800, -7)] });

// ---- H ----
function densityBlob(w, h, stops) {
  const cv = document.createElement("canvas");
  cv.width = w;
  cv.height = h;
  const c = cv.getContext("2d");
  c.translate(w / 2, h / 2);
  c.scale(w / 2, h / 2);
  const g = c.createRadialGradient(0, 0, 0, 0, 0, 1);
  stops.forEach(([o, col]) => g.addColorStop(o, col));
  c.fillStyle = g;
  c.beginPath();
  c.arc(0, 0, 1, 0, Math.PI * 2);
  c.fill();
  return cv;
}
const jet = [[0, "#e03a18"], [.07, "#ee8a1c"], [.17, "#e6dc20"], [.36, "#40c850"], [.54, "#20b8c8"], [.72, "#2a70e4"], [.92, "#2a4ce0"], [1, "rgba(40,70,230,0)"]];
const plume = [[0, "rgba(40,90,225,.7)"], [.55, "rgba(40,90,225,.4)"], [1, "rgba(40,90,225,0)"]];
function flowPlot(plot, sparse, blob, xMin, gateX, gateY) {
  addChart(plot, { l: 50, t: 20, r: 10, b: 50 }, {
    type: "scatter",
    data: {
      datasets: [
        ...blob.map(([x, y, style]) => ({ data: [{ x, y }], pointStyle: style, pointRadius: 4, order: 3 })),
        { data: sparse.map(([x, y]) => ({ x, y })), backgroundColor: "#2a55d8", borderWidth: 0, pointRadius: 1.4, order: 2 },
        path([[gateX, 1.1], [gateX, 6.48]], 1.5, "#222"),
        path([[xMin, gateY], [5.27, gateY]], 2.5, "#222"),
      ],
    },
    options: {
      scales: {
        x: {
          type: "linear", min: xMin, max: 5.27,
          afterBuildTicks(s) { s.ticks = flowXTicks.map((value) => ({ value })); },
          ticks: { font: { size: 19 }, color: "#333", padding: 2, autoSkip: false, maxRotation: 0, callback: (v, i) => flowXLabels[i] },
          grid: { drawOnChartArea: false, tickLength: 7, tickWidth: 1.5, tickColor: "#333" },
          border: { color: "#777", width: 1.5 },
        },
        y: {
          type: "linear", min: 1.1, max: 6.48,
          afterBuildTicks(s) { s.ticks = flowYTicks.map((value) => ({ value })); },
          ticks: { font: { size: 19 }, color: "#333", padding: 2, autoSkip: false, callback: (v, i) => flowYLabels[i] },
          grid: { drawOnChartArea: false, tickLength: 5, tickWidth: 1.5, tickColor: "#333" },
          border: { color: "#777", width: 1.5 },
        },
      },
    },
    plugins: [framePlugin],
  });
}
flowPlot([151, 2712, 387, 2948], flowHealthySparse, [[3.31, 2.1, densityBlob(80, 130, jet)]], 1.36, 2.585, 3.45);
flowPlot([439, 2712, 675, 2948], flowPatientsSparse, [[3.86, 4.35, densityBlob(66, 90, plume)], [3.7, 2.4, densityBlob(84, 130, jet)]], 1.36, 2.585, 3.48);
txt("SSC & FSC on PMN", 304, 2619, 31);
line(147, 2642, 665, 2642, "#555", 2);
txt("Healthy", 271, 2684, 30);
txt("Patients", 560, 2684, 30);
txt("HLA-DR/ -DP/ -DQ", 68, 2837, 30, { rot: true });
txt("CD66", 162, 3024, 30);
line(102, 2990, 102, 2730, "#000", 3.5);
line(101, 2990, 655, 2990, "#000", 3.5);
tri("102,2715 93,2732 111,2732");
tri("670,2990 653,2981 653,2999");
const flowRed = "#8b1a10";
[["0.016",156,2731,"l"],["0.60",364,2731,"r"],["0.098",156,2927,"l"],["99.3",364,2927,"r"],["9.50E-3",444,2731,"l"],["4.57",653,2731,"r"],["6.34E-3",444,2927,"l"],["95.4",653,2927,"r"]]
  .forEach(([s, x, y, a]) => txt(s, x, y, 20, { a, color: flowRed }));
txt("Percentage of PMN", 739, 2794, 28, { rot: true });
txt("[% HLA-DR/ -DP/ -DQ]", 774, 2794, 28, { rot: true });
dotPanel({ plot: [828, 2600, 1022, 2985], c0: 878, c1: 974, y: [0, 8, 2], bars: [1.1, 4.2], barW: 66, healthy: prPctHealthy, patients: prPctPatients, red: prPctRed,
  labelShift: [-3, 14], lines: [[[.02, 6.76], [1.03, 6.76]]], notes: [stars("***", 6.76, -7)] });

// ---- I ----
txt("CD74 expression [MFI]", 1150, 2784, 28, { rot: true });
dotPanel({ plot: [1274, 2601, 1468, 2985], c0: 1321, c1: 1419, y: [0, 1000, 200], bars: [142, 453], barW: 66, healthy: cd74Healthy, patients: cd74Patients, red: cd74Red,
  labelShift: [-3, 14], lines: [[[-.07, 905], [1.07, 905]]], notes: [stars("****", 905, -21)] });

// ---- J ----
[["CD40",1732],["CD83",2102],["CXCR4",2457]].forEach(([s, x]) => txt(s, x, 2548, 38, { bold: true }));
[1565, 1936, 2310].forEach((x) => txt("% of live PMN", x, 2805, 28, { rot: true }));
dotPanel({ plot: [1635, 2613, 1829, 2998], c0: 1691, c1: 1774, y: [0, 10, 2], lw: 3, labelShift: [-8, -1], healthy: cd40Healthy, patients: cd40Patients, red: cd40Red, lineW: 3,
  lines: [[[0, 4.1], [0, 8.36], [1, 8.36], [1, 8.03]], [[-.33, .68], [.33, .68]], [[.67, 3.27], [1.33, 3.27]]], notes: [stars("**", 8.36, -6, 0.5, 22)] });
dotPanel({ plot: [2006, 2613, 2199, 2998], c0: 2061, c1: 2145, y: [0, 15, 5], lw: 3, labelShift: [-8, -1], healthy: cd83Healthy, patients: cd83Patients, red: cd83Red, lineW: 3,
  lines: [[[0, 6.47], [0, 11.3], [1, 11.3], [1, 10.8]], [[-.33, 1.15], [.33, 1.15]], [[.67, 5.1], [1.33, 5.1]]], notes: [stars("*", 11.3, -6, 0.5, 22)] });
dotPanel({ plot: [2360, 2613, 2553, 2998], c0: 2415, c1: 2498, y: [0, 3, 1], lw: 3, labelShift: [-8, -1], healthy: cxcr4Healthy, patients: cxcr4Patients, red: cxcr4Red, lineW: 3,
  lines: [[[0, 1], [0, 2.95], [1, 2.95], [1, 2.86]], [[-.33, .26], [.33, .26]], [[.67, 1.37], [1.33, 1.37]]], notes: [stars("****", 2.95, -6, 0.5, 22)] });
</script>
</body>
</html>
